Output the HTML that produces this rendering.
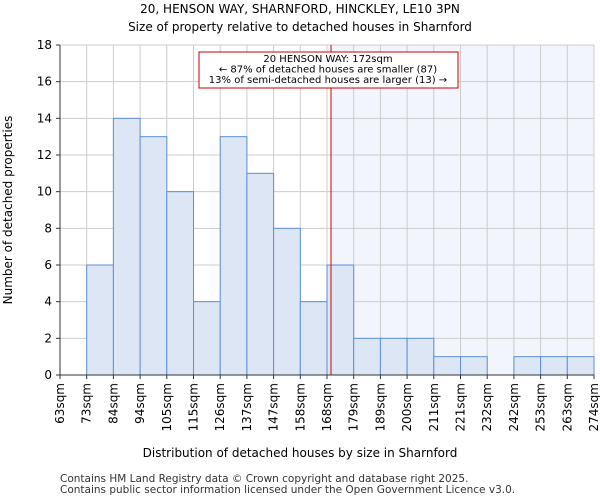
<!DOCTYPE html>
<html><head><meta charset="utf-8"><style>
body{margin:0;background:#fff;}
svg{display:block;font-family:"DejaVu Sans","Liberation Sans",sans-serif;}
</style></head><body>
<svg id="c" width="600" height="500">
<text x="300" y="13" text-anchor="middle" font-size="12">20, HENSON WAY, SHARNFORD, HINCKLEY, LE10 3PN</text>
<text x="300" y="31" text-anchor="middle" font-size="12">Size of property relative to detached houses in Sharnford</text>
<text x="300" y="457" text-anchor="middle" font-size="12">Distribution of detached houses by size in Sharnford</text>
<text transform="translate(12,210) rotate(-90)" text-anchor="middle" font-size="12">Number of detached properties</text>
<text x="60" y="482" font-size="10.5" fill="#333">Contains HM Land Registry data © Crown copyright and database right 2025.</text>
<text x="60" y="493" font-size="10.5" fill="#333">Contains public sector information licensed under the Open Government Licence v3.0.</text>
</svg>
<script>
const binLabels=["63sqm","73sqm","84sqm","94sqm","105sqm","115sqm","126sqm","137sqm","147sqm","158sqm","168sqm","179sqm","189sqm","200sqm","211sqm","221sqm","232sqm","242sqm","253sqm","263sqm","274sqm"];
const counts=[0,6,14,13,10,4,13,11,8,4,6,2,2,2,1,1,0,1,1,1];
const yTicks=[0,2,4,6,8,10,12,14,16,18];
const markerBin=10.15;
const X0=60,X1=594,Y0=375,Y1=45,YMAX=18;
const bw=(X1-X0)/counts.length;
const xs=i=>X0+i*bw;
const ys=v=>Y0-(v/YMAX)*(Y0-Y1);
const svg=document.getElementById('c');
const NS='http://www.w3.org/2000/svg';
function mk(t,a){const e=document.createElementNS(NS,t);for(const k in a)e.setAttribute(k,a[k]);svg.appendChild(e);return e;}
let e;
const mx=xs(markerBin);
e=mk('rect',{x:mx,y:Y1,width:X1-mx,height:Y0-Y1,fill:'#f2f5fc'});


for(let i=0;i<=counts.length;i++){
 e=mk('line',{x1:xs(i),x2:xs(i),y1:Y1,y2:Y0,stroke:'#cccccc','stroke-width':1});
 
 
}
yTicks.forEach(t=>{
 e=mk('line',{x1:X0,x2:X1,y1:ys(t),y2:ys(t),stroke:'#cccccc','stroke-width':1});
 
 
 e=mk('line',{x1:X0-4,x2:X0,y1:ys(t),y2:ys(t),stroke:'#333'});
 
 
 e=mk('text',{x:X0-8,y:ys(t)+4,'text-anchor':'end','font-size':12});
 e.textContent=t;
 
 
});
counts.forEach((v,i)=>{
 if(v<=0)return;
 e=mk('rect',{x:xs(i),y:ys(v),width:bw,height:Y0-ys(v),fill:'#dce6f5',stroke:'#5b8fd6','stroke-width':1});
 
 
});
binLabels.forEach((l,i)=>{
 const x=xs(i);
 e=mk('line',{x1:x,x2:x,y1:Y0,y2:Y0+4,stroke:'#333'});
 
 
 e=mk('text',{transform:`translate(${x+4},${Y0+8}) rotate(-90)`,'text-anchor':'end','font-size':12});
 e.textContent=l;
 
 
});
e=mk('line',{x1:X0,x2:X0,y1:Y1,y2:Y0,stroke:'#333'});


e=mk('line',{x1:X0,x2:X1,y1:Y0,y2:Y0,stroke:'#333'});


e=mk('line',{x1:mx,x2:mx,y1:Y1,y2:Y0,stroke:'#cc0000','stroke-width':1});


e=mk('rect',{x:199,y:52,width:259,height:36,fill:'#fff',stroke:'#cc0000','stroke-width':1});


const ann=["20 HENSON WAY: 172sqm","← 87% of detached houses are smaller (87)","13% of semi-detached houses are larger (13) →"];
ann.forEach((s,i)=>{
 e=mk('text',{x:328,y:62+i*10.5,'text-anchor':'middle','font-size':10});
 e.textContent=s;
 
 
});
</script>
</body></html>
